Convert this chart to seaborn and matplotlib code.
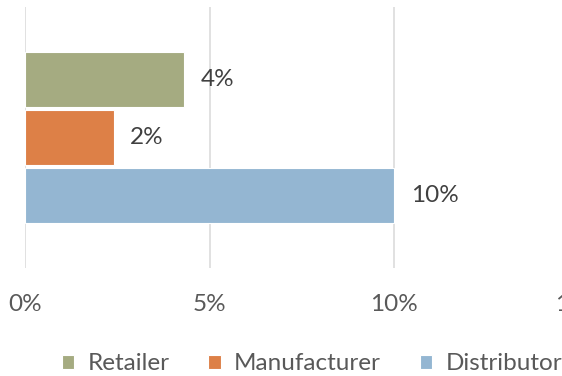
import matplotlib
matplotlib.use("Agg")
import matplotlib.pyplot as plt
import seaborn as sns
import pandas as pd
from matplotlib.ticker import PercentFormatter

# Share by channel
series = ["Retailer", "Manufacturer", "Distributor"]
shares = [0.043, 0.024, 0.100]
colors = ["#A5AB81", "#DD8047", "#94B6D2"]
x_ticks = [0.0, 0.05, 0.10, 0.15]

df = pd.DataFrame({"group": [""] * len(series), "series": series, "share": shares})

sns.set_theme(style="white")
plt.rcParams["font.family"] = ["Lato", "DejaVu Sans"]

FS = 17.5

fig = plt.figure(figsize=(5.62, 3.76), dpi=100)
ax = fig.add_axes([25 / 562, 1 - 268 / 376, (578.5 - 25) / 562, (268 - 7) / 376])

sns.barplot(
    data=df, x="share", y="group", hue="series", hue_order=series,
    palette=colors, saturation=1, orient="h", width=0.67, gap=0.06,
    edgecolor="white", linewidth=0.8, ax=ax, zorder=3,
)

ax.set_xlim(0, 0.15)
ax.set_ylim(0.5, -0.5)
ax.set_xticks(x_ticks)
ax.xaxis.set_major_formatter(PercentFormatter(1.0, decimals=0))
ax.tick_params(axis="x", length=0, pad=19, labelsize=FS, labelcolor="#595959")
ax.set_yticks([])
ax.set_xlabel("")
ax.set_ylabel("")
ax.grid(axis="x", color="#D9D9D9", linewidth=1.1, zorder=0)
ax.set_axisbelow(True)
for s in ax.spines.values():
    s.set_visible(False)

for cont, val in zip(ax.containers, shares):
    ax.bar_label(cont, labels=[f"{val:.0%}"], padding=12,
                 fontsize=FS, color="#404040")

handles, labels = ax.get_legend_handles_labels()
ax.get_legend().remove()
fig.legend(
    handles, labels, loc="center", bbox_to_anchor=(312 / 562, 1 - 364 / 376),
    ncol=3, frameon=False, fontsize=FS, labelcolor="#595959",
    handlelength=0.5, handleheight=0.5, handletextpad=0.55,
    columnspacing=1.6,
)

fig.savefig("out.png", dpi=100)
